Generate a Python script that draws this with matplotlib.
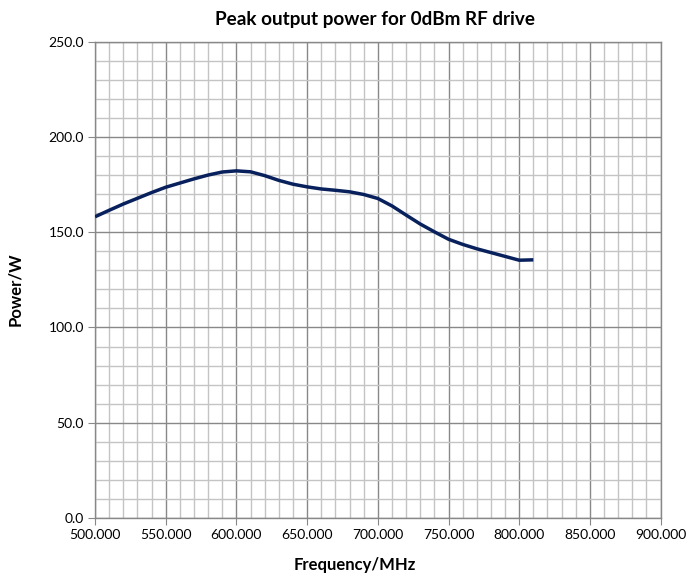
import matplotlib
matplotlib.use('Agg')
import matplotlib.pyplot as plt
from matplotlib.ticker import MultipleLocator, FormatStrFormatter

# values
freq_mhz = [500, 510, 520, 530, 540, 550, 560, 570, 580, 590, 600, 610, 620, 630, 640, 650,
            660, 670, 680, 690, 700, 710, 720, 730, 740, 750, 760, 770, 780, 790, 800, 810]
power_w = [158.1, 161.5, 164.8, 167.8, 170.8, 173.6, 175.8, 178.0, 180.0, 181.6, 182.2, 181.7,
           179.7, 177.2, 175.2, 173.8, 172.7, 172.0, 171.2, 169.8, 167.7, 163.8, 159.0, 154.3,
           150.2, 146.3, 143.6, 141.3, 139.3, 137.3, 135.3, 135.5]

plt.rcParams['font.family'] = ['Lato', 'DejaVu Sans']

fig = plt.figure(figsize=(6.86, 5.79), dpi=100)
ax = fig.add_axes([0.1385, 0.1054, 0.8245, 0.8226])

ax.plot(freq_mhz, power_w, color='#08205c', linewidth=2.5, solid_capstyle='butt', zorder=3)

ax.set_xlim(500, 900)
ax.set_ylim(0, 250)
ax.xaxis.set_major_locator(MultipleLocator(50))
ax.xaxis.set_minor_locator(MultipleLocator(10))
ax.yaxis.set_major_locator(MultipleLocator(50))
ax.yaxis.set_minor_locator(MultipleLocator(10))
ax.xaxis.set_major_formatter(FormatStrFormatter('%.3f'))
ax.yaxis.set_major_formatter(FormatStrFormatter('%.1f'))

ax.grid(which='minor', color='#c4c4c4', linewidth=1.0)
ax.grid(which='major', color='#888888', linewidth=1.0)
ax.set_axisbelow(True)
for s in ax.spines.values():
    s.set_color('#888888')
    s.set_linewidth(1.0)

ax.tick_params(which='major', direction='out', length=5, color='#888888', labelsize=10, pad=3)
ax.tick_params(which='minor', length=0)

fig.text(375 / 686, 1 - 20 / 579, 'Peak output power for 0dBm RF drive',
         fontsize=13.6, fontweight='bold', ha='center', va='center')
ax.set_xlabel('Frequency/MHz', fontsize=12, fontweight='bold')
ax.set_ylabel('Power/W', fontsize=12, fontweight='bold')
ax.xaxis.set_label_coords(0.46, -0.098)
ax.xaxis.label.set_va('center')
ax.yaxis.set_label_coords(-0.141, 0.481)
ax.yaxis.label.set_va('center')

fig.savefig('out.png', dpi=100)
